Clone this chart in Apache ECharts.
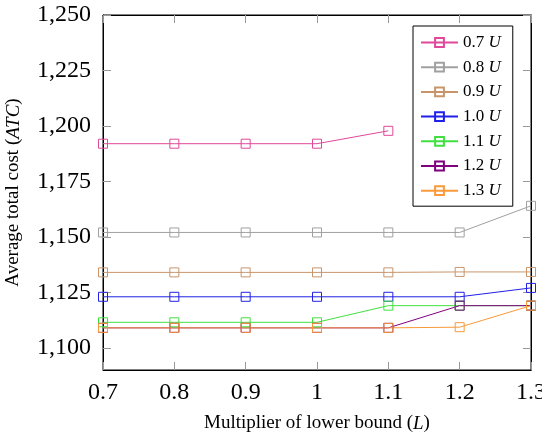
<!DOCTYPE html>
<html>
<head>
<meta charset="utf-8">
<script src="https://cdn.jsdelivr.net/npm/echarts@6/dist/echarts.min.js"></script>
<style>
  html, body { margin: 0; padding: 0; background: #fff; }
  #chart { width: 542px; height: 438px; }
</style>
</head>
<body>
<div id="chart"></div>
<script>
// x positions (multiplier of lower bound L)
const multipliers = [0.7, 0.8, 0.9, 1.0, 1.1, 1.2, 1.3]
const yTicks = [1100, 1125, 1150, 1175, 1200, 1225, 1250]

// one series per upper bound multiplier
const seriesNames = ['0.7', '0.8', '0.9', '1.0', '1.1', '1.2', '1.3']
const atc07 = [1192, 1192, 1192, 1192, 1197.8]
const atc08 = [1152, 1152, 1152, 1152, 1152, 1152, 1164]
const atc09 = [1134, 1134, 1134, 1134, 1134, 1134.2, 1134.2]
const atc10 = [1123, 1123, 1123, 1123, 1123, 1123, 1127]
const atc11 = [1111.5, 1111.5, 1111.5, 1111.5, 1119, 1119, 1119]
const atc12 = [1109, 1109, 1109, 1109, 1109, 1119, 1119]
const atc13 = [1109, 1109, 1109, 1109, 1109, 1109.3, 1119]
const seriesColors = ['#e0489a', '#a0a0a0', '#c8956a', '#2020e8', '#40e040', '#800080', '#f89a3a']

const allValues = [atc07, atc08, atc09, atc10, atc11, atc12, atc13]
const fontFamily = 'Liberation Serif, DejaVu Serif, serif'

const chart = echarts.init(document.getElementById('chart'))

const series = allValues.map((vals, i) => ({
  name: seriesNames[i],
  type: 'line',
  data: vals.map((v, j) => [multipliers[j], v]),
  symbol: 'rect',
  symbolSize: 9,
  showSymbol: true,
  lineStyle: { color: seriesColors[i], width: 1 },
  itemStyle: { color: 'rgba(255,255,255,0)', borderColor: seriesColors[i], borderWidth: 1 },
  emphasis: { disabled: true },
  animation: false
}))

const tickStyle = { show: true, inside: true, length: 8, lineStyle: { color: '#999' } }

const nameRich = {
  a: { fontFamily: fontFamily, fontSize: 19, color: '#000' },
  b: { fontFamily: fontFamily, fontSize: 19, fontStyle: 'italic', color: '#000' }
}

const option = {
  backgroundColor: '#fff',
  grid: {
    left: 103, right: 11, top: 15, bottom: 68,
    outerBoundsMode: 'none',
    show: true, borderColor: '#000', borderWidth: 1
  },
  legend: {
    orient: 'vertical',
    left: 413,
    top: 26,
    padding: [8, 12, 7, 7],
    itemWidth: 37,
    itemHeight: 11,
    itemGap: 7.7,
    borderColor: '#000',
    borderWidth: 1,
    backgroundColor: '#fff',
    data: seriesNames,
    formatter: (name) => '{a|' + name + ' }{b|U}',
    textStyle: {
      rich: {
        a: { fontFamily: fontFamily, fontSize: 17, color: '#000' },
        b: { fontFamily: fontFamily, fontSize: 17, fontStyle: 'italic', color: '#000' }
      }
    }
  },
  xAxis: [
    {
      type: 'value',
      min: 0.7,
      max: 1.3,
      interval: 0.1,
      name: '{a|Multiplier of lower bound (}{b|L}{a|)}',
      nameLocation: 'middle',
      nameGap: 44,
      nameTextStyle: { rich: nameRich },
      splitLine: { show: false },
      axisLine: { lineStyle: { color: '#000' } },
      axisTick: tickStyle,
      axisLabel: {
        fontFamily: fontFamily,
        fontSize: 24,
        color: '#000',
        margin: 11,
        formatter: (v) => String(Math.round(v * 10) / 10)
      }
    },
    {
      type: 'value',
      position: 'top',
      min: 0.7,
      max: 1.3,
      interval: 0.1,
      splitLine: { show: false },
      axisLine: { lineStyle: { color: '#000' } },
      axisTick: tickStyle,
      axisLabel: { show: false }
    }
  ],
  yAxis: [
    {
      type: 'value',
      min: 1090,
      max: 1250,
      name: '{a|Average total cost (}{b|ATC}{a|)}',
      nameLocation: 'middle',
      nameGap: 80,
      nameTextStyle: { rich: nameRich },
      splitLine: { show: false },
      axisLine: { lineStyle: { color: '#000' } },
      axisTick: Object.assign({ customValues: yTicks }, tickStyle),
      axisLabel: {
        customValues: yTicks,
        fontFamily: fontFamily,
        fontSize: 24,
        color: '#000',
        margin: 12,
        formatter: (v) => v.toLocaleString('en-US')
      }
    },
    {
      type: 'value',
      position: 'right',
      min: 1090,
      max: 1250,
      splitLine: { show: false },
      axisLine: { lineStyle: { color: '#000' } },
      axisTick: Object.assign({ customValues: yTicks }, tickStyle),
      axisLabel: { show: false }
    }
  ],
  series: series
}

chart.setOption(option)
</script>
</body>
</html>
